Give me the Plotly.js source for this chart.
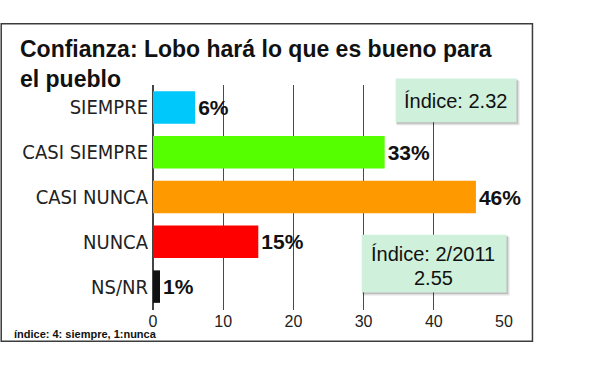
<!DOCTYPE html>
<html>
<head>
<meta charset="utf-8">
<script src="https://cdn.plot.ly/plotly-3.0.1.min.js"></script>
<style>html,body{margin:0;padding:0;background:#fff;}#chart{width:600px;height:377px;}</style>
</head>
<body>
<div id="chart"></div>
<script>
// ---- data ----
const categories = ["SIEMPRE", "CASI SIEMPRE", "CASI NUNCA", "NUNCA", "NS/NR"];
const values = [6, 33, 46, 15, 1];
const barColors = ["#00c8fa", "#55ff00", "#ff9900", "#ff0000", "#111111"];
const xTicks = [0, 10, 20, 30, 40, 50];
const titleText = "Confianza: Lobo hará lo que es bueno para<br>el pueblo";
const indexNow = "Índice: 2.32";
const indexPrevLabel = "Índice: 2/2011";
const indexPrevValue = "2.55";
const footnote = "índice: 4: siempre, 1:nunca";

// ---- layout helpers (pixel -> paper) ----
const M = {l: 153, r: 95.5, t: 84.5, b: 66.5};
const W = 600 - M.l - M.r, H = 377 - M.t - M.b;
const px = x => (x - M.l) / W;
const py = y => (377 - M.b - y) / H;

const NARROW = "Liberation Sans Narrow, Arial Narrow, DejaVu Sans Condensed, sans-serif";
const SANS = "Liberation Sans, Arial, sans-serif";

const trace = {
  type: "bar",
  orientation: "h",
  y: categories,
  x: values,
  marker: {color: barColors, line: {width: 0}},
  width: 0.725,
  text: values.map(v => v + "%"),
  textposition: "outside",
  textfont: {family: SANS, size: 21, color: "#111", weight: "bold"},
  constraintext: "none",
  cliponaxis: false,
  hoverinfo: "none"
};

function box(x0, y0, x1, y1) {
  return [
    {type: "rect", xref: "paper", yref: "paper", x0: px(x0 + 1), x1: px(x1 + 3), y0: py(y1 + 3), y1: py(y0 + 2),
     fillcolor: "rgba(0,0,0,0.12)", line: {width: 0}},
    {type: "rect", xref: "paper", yref: "paper", x0: px(x0 + 0.5), x1: px(x1 + 1.5), y0: py(y1 + 1.5), y1: py(y0 + 1),
     fillcolor: "rgba(0,0,0,0.15)", line: {width: 0}},
    {type: "rect", xref: "paper", yref: "paper", x0: px(x0), x1: px(x1), y0: py(y1), y1: py(y0),
     fillcolor: "#cff0db", line: {width: 0}}
  ];
}

const shapes = [
  {type: "rect", xref: "paper", yref: "paper", x0: px(1), x1: px(533), y0: py(342), y1: py(23),
   fillcolor: "rgba(0,0,0,0)", line: {color: "#3c3c3c", width: 1.5}},
  ...box(396, 78, 517, 122),
  ...box(362, 235, 507, 293)
];

function label(text, x, y, size, xanchor, weight, family) {
  return {xref: "paper", yref: "paper", x: px(x), y: py(y), text: text, showarrow: false,
    xanchor: xanchor, yanchor: "middle", borderpad: 0, borderwidth: 0,
    font: {family: family || SANS, size: size, color: "#111", weight: weight || "normal"}};
}

const layout = {
  width: 600, height: 377,
  margin: M,
  paper_bgcolor: "#fff", plot_bgcolor: "rgba(0,0,0,0)",
  showlegend: false,
  bargap: 0.275,
  title: {
    text: titleText,
    font: {family: SANS, size: 23, color: "#111", weight: "bold"},
    xref: "container", yref: "container",
    x: 20 / 600, xanchor: "left",
    y: 1 - 57 / 377, yanchor: "top"
  },
  xaxis: {
    range: [0, 50], tickvals: xTicks, ticktext: xTicks.map(String),
    showgrid: true, gridcolor: "#4a4a4a", gridwidth: 1,
    zeroline: true, zerolinecolor: "#444", zerolinewidth: 1.5,
    ticks: "",
    showline: false,
    tickfont: {family: SANS, size: 16, color: "#222"},
    fixedrange: true
  },
  yaxis: {
    type: "category", range: [4.522, -0.5],
    showgrid: false, zeroline: false, showline: false, ticks: "",
    tickfont: {family: NARROW, size: 20, color: "#222"},
    ticklabelstandoff: 4,
    fixedrange: true
  },
  shapes: shapes,
  annotations: [
    label(indexNow, 455.5, 100.4, 20, "center"),
    label(indexPrevLabel, 433.5, 254.4, 20, "center"),
    label(indexPrevValue, 434, 278.4, 20, "center"),
    label(footnote, 14, 334.5, 11, "left", "bold")
  ]
};

Plotly.newPlot("chart", [trace], layout, {staticPlot: true, displayModeBar: false});
</script>
</body>
</html>
